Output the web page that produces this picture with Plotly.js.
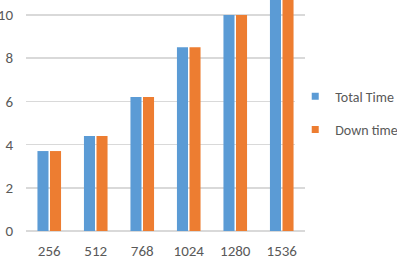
<!DOCTYPE html>
<html><head><meta charset="utf-8">
<script src="https://cdn.plot.ly/plotly-3.0.1.min.js"></script>
<style>html,body{margin:0;padding:0;background:#fff}</style>
</head><body>
<div id="chart" style="width:397px;height:259px"></div>
<script>
var categories = ["256", "512", "768", "1024", "1280", "1536"];
var totalTime = [3.7, 4.4, 6.2, 8.5, 10.0, 11.0];
var downTime = [3.7, 4.4, 6.2, 8.5, 10.0, 11.0];
var yTicks = [0, 2, 4, 6, 8, 10];
var seriesNames = ["Total Time", "Down time"];
var seriesColors = ["#5b9bd5", "#ed7d31"];

var fontFam = "Carlito, 'Liberation Sans Narrow', 'Open Sans', sans-serif";
var data = [
  {type: "bar", name: seriesNames[0], x: categories, y: totalTime, marker: {color: seriesColors[0]}, showlegend: false},
  {type: "bar", name: seriesNames[1], x: categories, y: downTime, marker: {color: seriesColors[1]}, showlegend: false},
  {type: "scatter", mode: "markers", name: seriesNames[0], x: [null], y: [null], legendgroup: "a",
   marker: {symbol: "square", size: 7, color: seriesColors[0]}},
  {type: "scatter", mode: "markers", name: seriesNames[1], x: [null], y: [null], legendgroup: "b",
   marker: {symbol: "square", size: 7, color: seriesColors[1]}}
];
var layout = {
  width: 397, height: 259,
  margin: {l: 26, r: 92, t: 0, b: 28, pad: 0, autoexpand: false},
  paper_bgcolor: "#fff", plot_bgcolor: "#fff",
  font: {family: fontFam, size: 15, color: "#595959"},
  barmode: "group", bargap: 0.46, bargroupgap: 0.12,
  showlegend: true,
  legend: {x: 0.965, xanchor: "left", y: 0.51, yanchor: "middle", tracegroupgap: 12,
           font: {family: fontFam, size: 14, color: "#595959"}, itemwidth: 30, itemsizing: "trace"},
  xaxis: {type: "category", showgrid: false, zeroline: false, showline: false, ticks: "",
          ticklabelstandoff: 9, tickfont: {size: 15}},
  yaxis: {range: [0, 10.69], tickvals: yTicks, showgrid: true, gridcolor: "#d9d9d9", gridwidth: 1.5,
          zeroline: true, zerolinecolor: "#d9d9d9", zerolinewidth: 1.5, showline: false, ticks: "",
          ticklabelstandoff: 12, tickfont: {size: 15}}
};
Plotly.newPlot("chart", data, layout, {displayModeBar: false, staticPlot: true});
</script>
</body></html>
